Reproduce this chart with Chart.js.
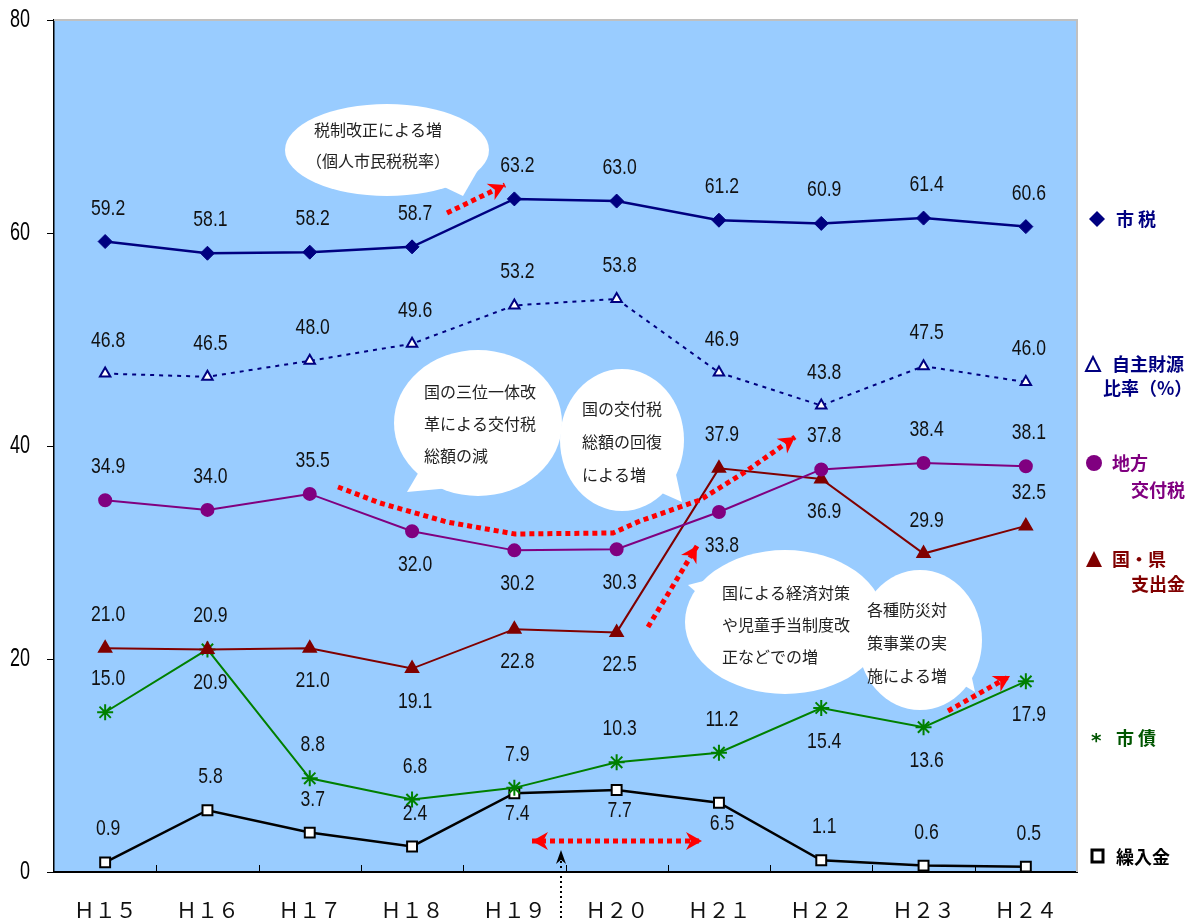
<!DOCTYPE html>
<html>
<head>
<meta charset="utf-8">
<script src="https://cdn.jsdelivr.net/npm/chart.js@4/dist/chart.umd.min.js"></script>
<style>
html, body { margin: 0; padding: 0; background: #fff; }
#wrap { width: 1197px; height: 918px; }
</style>
</head>
<body>
<div id="wrap"><canvas id="myChart"></canvas></div>
<script>
// categories
const years = ['Ｈ１５', 'Ｈ１６', 'Ｈ１７', 'Ｈ１８', 'Ｈ１９', 'Ｈ２０', 'Ｈ２１', 'Ｈ２２', 'Ｈ２３', 'Ｈ２４'];

// series values
const shizei  = [59.2, 58.1, 58.2, 58.7, 63.2, 63.0, 61.2, 60.9, 61.4, 60.6];
const jishu   = [46.8, 46.5, 48.0, 49.6, 53.2, 53.8, 46.9, 43.8, 47.5, 46.0];
const kofuzei = [34.9, 34.0, 35.5, 32.0, 30.2, 30.3, 33.8, 37.8, 38.4, 38.1];
const kenShishutsu = [21.0, 20.9, 21.0, 19.1, 22.8, 22.5, 37.9, 36.9, 29.9, 32.5];
const shisai  = [15.0, 20.9, 8.8, 6.8, 7.9, 10.3, 11.2, 15.4, 13.6, 17.9];
const kurire  = [0.9, 5.8, 3.7, 2.4, 7.4, 7.7, 6.5, 1.1, 0.6, 0.5];

// y axis
const yMin = 0, yMax = 80, yStep = 20;

// where each value label sits: a = above, b = below
const posShizei = ['a','a','a','a','a','a','a','a','a','a'];
const posJishu  = ['a','a','a','a','a','a','a','a','a','a'];
const posKofu   = ['a','a','a','b','b','b','b','a','a','a'];
const posKen    = ['a','a','b','b','b','b','a','b','a','a'];
const posShisai = ['a','b','a','a','a','a','a','b','b','b'];
const posKuri   = ['a','a','a','a','b','b','b','a','a','a'];

const NUM_FONT = '22px "Liberation Sans"';
const JP_FONT = '"Noto Sans CJK JP"';

function narrowText(ctx, txt, x, y, align, sx) {
    ctx.save();
    ctx.translate(x, y);
    ctx.scale(sx, 1);
    ctx.textAlign = align;
    ctx.fillText(txt, 0, 0);
    ctx.restore();
}

function arrowHead(ctx, x1, y1, x2, y2, len, wid, color) {
    const a = Math.atan2(y2 - y1, x2 - x1);
    ctx.save();
    ctx.fillStyle = color;
    ctx.translate(x2, y2);
    ctx.rotate(a);
    ctx.beginPath();
    ctx.moveTo(0, 0);
    ctx.lineTo(-len, -wid);
    ctx.lineTo(-len * 0.7, 0);
    ctx.lineTo(-len, wid);
    ctx.closePath();
    ctx.fill();
    ctx.restore();
}

function redPath(ctx, pts, heads) {
    ctx.save();
    ctx.strokeStyle = '#ff0000';
    ctx.lineWidth = 5;
    ctx.setLineDash([5, 4]);
    ctx.beginPath();
    ctx.moveTo(pts[0][0], pts[0][1]);
    for (let i = 1; i < pts.length; i++) ctx.lineTo(pts[i][0], pts[i][1]);
    ctx.stroke();
    ctx.restore();
    const n = pts.length;
    arrowHead(ctx, pts[n-2][0], pts[n-2][1], pts[n-1][0], pts[n-1][1], 16, 9, '#ff0000');
    if (heads === 2) arrowHead(ctx, pts[1][0], pts[1][1], pts[0][0], pts[0][1], 16, 9, '#ff0000');
}

function bubble(ctx, cx, cy, rx, ry, tail, lines, tx, ty, lh, align) {
    ctx.save();
    ctx.fillStyle = '#ffffff';
    ctx.beginPath();
    ctx.ellipse(cx, cy, rx, ry, 0, 0, Math.PI * 2);
    ctx.fill();
    ctx.beginPath();
    ctx.moveTo(tail[0][0], tail[0][1]);
    ctx.lineTo(tail[1][0], tail[1][1]);
    ctx.lineTo(tail[2][0], tail[2][1]);
    ctx.closePath();
    ctx.fill();
    ctx.fillStyle = '#222';
    ctx.font = '16px ' + JP_FONT;
    ctx.textAlign = align;
    ctx.textBaseline = 'middle';
    lines.forEach((l, i) => ctx.fillText(l, tx, ty + i * lh));
    ctx.restore();
}

const extras = {
    id: 'extras',
    beforeDraw(chart) {
        const { ctx, chartArea: a } = chart;
        ctx.save();
        ctx.fillStyle = '#99ccff';
        ctx.fillRect(a.left, a.top, a.right - a.left, a.bottom - a.top);
        ctx.restore();
    },
    beforeDatasetsDraw(chart) {
        const ctx = chart.ctx;
        bubble(ctx, 387, 150, 102, 46, [[440, 185], [463, 196], [478, 170]],
            ['税制改正による増', '（個人市民税税率）'], 378, 130, 31, 'center');
        bubble(ctx, 478, 423, 84, 73, [[420, 470], [407, 492], [450, 488]],
            ['国の三位一体改', '革による交付税', '総額の減'], 424, 392, 32, 'left');
        bubble(ctx, 622, 440, 62, 71, [[655, 490], [682, 502], [675, 470]],
            ['国の交付税', '総額の回復', 'による増'], 582, 409, 33, 'left');
        bubble(ctx, 785, 622, 100, 72, [[705, 600], [688, 585], [715, 578]],
            ['国による経済対策', 'や児童手当制度改', '正などでの増'], 722, 593, 32, 'left');
        bubble(ctx, 920, 640, 62, 70, [[955, 680], [975, 692], [968, 660]],
            ['各種防災対', '策事業の実', '施による増'], 867, 610, 33, 'left');
    },
    afterDatasetsDraw(chart) {
        const { ctx, chartArea: a, scales } = chart;
        const xs = scales.x, ys = scales.y;

        // frame
        ctx.save();
        ctx.strokeStyle = '#c0c0c0';
        ctx.lineWidth = 2;
        ctx.beginPath();
        ctx.moveTo(a.left, a.top);
        ctx.lineTo(a.right, a.top);
        ctx.lineTo(a.right, a.bottom);
        ctx.stroke();
        // inward x ticks
        ctx.strokeStyle = '#000';
        ctx.lineWidth = 1;
        const half = (xs.getPixelForValue(1) - xs.getPixelForValue(0)) / 2;
        for (let i = 1; i < years.length; i++) {
            const px = Math.round(xs.getPixelForValue(i) - half) + 0.5;
            ctx.beginPath();
            ctx.moveTo(px, a.bottom);
            ctx.lineTo(px, a.bottom - 7);
            ctx.stroke();
        }
        ctx.restore();

        // y tick labels
        ctx.save();
        ctx.fillStyle = '#000';
        ctx.font = '25px "Liberation Sans"';
        ctx.textBaseline = 'middle';
        ys.ticks.forEach(t => {
            narrowText(ctx, String(t.value), 30, ys.getPixelForValue(t.value), 'right', 0.72);
        });
        ctx.restore();

        // value labels
        ctx.save();
        ctx.fillStyle = '#111';
        ctx.font = NUM_FONT;
        ctx.textBaseline = 'middle';
        chart.data.datasets.forEach((ds, di) => {
            const meta = chart.getDatasetMeta(di);
            meta.data.forEach((pt, i) => {
                const below = ds.labelPos[i] === 'b';
                const dy = below ? ds.belowOff : -33;
                narrowText(ctx, ds.data[i].toFixed(1), pt.x + 3, pt.y + dy, 'center', 0.8);
            });
        });
        ctx.restore();

        // red arrows
        redPath(ctx, [[447, 213], [505, 185]], 1);
        redPath(ctx, [[338, 487], [380, 503], [447, 522], [515, 534], [613, 533], [640, 521], [700, 500], [745, 472], [795, 437]], 1);
        redPath(ctx, [[648, 627], [697, 546]], 1);
        redPath(ctx, [[948, 711], [1010, 676]], 1);
        redPath(ctx, [[532, 841], [702, 841]], 2);

        // black dotted arrow
        ctx.save();
        ctx.strokeStyle = '#000';
        ctx.lineWidth = 2;
        ctx.setLineDash([2, 3]);
        ctx.beginPath();
        ctx.moveTo(561, 918);
        ctx.lineTo(561, 858);
        ctx.stroke();
        ctx.restore();
        arrowHead(ctx, 561, 900, 561, 850, 14, 5, '#000');

        // legend
        ctx.save();
        ctx.textBaseline = 'middle';
        ctx.textAlign = 'left';
        ctx.font = 'bold 18px ' + JP_FONT;
        // 市税
        ctx.fillStyle = '#000080';
        ctx.beginPath();
        ctx.moveTo(1097, 211); ctx.lineTo(1105, 219); ctx.lineTo(1097, 227); ctx.lineTo(1089, 219);
        ctx.closePath(); ctx.fill();
        ctx.fillText('市 税', 1116, 219);
        // 自主財源比率
        ctx.strokeStyle = '#000080';
        ctx.lineWidth = 2;
        ctx.beginPath();
        ctx.moveTo(1093, 357); ctx.lineTo(1100, 371); ctx.lineTo(1086, 371);
        ctx.closePath(); ctx.stroke();
        ctx.fillText('自主財源', 1112, 364);
        ctx.fillText('比率（%）', 1103, 388);
        // 地方交付税
        ctx.fillStyle = '#800080';
        ctx.beginPath();
        ctx.arc(1094, 463, 8, 0, Math.PI * 2);
        ctx.fill();
        ctx.fillText('地方', 1112, 463);
        ctx.fillText('交付税', 1131, 490);
        // 国・県支出金
        ctx.fillStyle = '#800000';
        ctx.beginPath();
        ctx.moveTo(1094, 551); ctx.lineTo(1102, 567); ctx.lineTo(1086, 567);
        ctx.closePath(); ctx.fill();
        ctx.fillText('国・県', 1112, 559);
        ctx.fillText('支出金', 1131, 584);
        // 市債
        ctx.fillStyle = '#005500';
        ctx.font = 'bold 20px "DejaVu Sans"';
        ctx.fillText('*', 1091, 742);
        ctx.font = 'bold 18px ' + JP_FONT;
        ctx.fillText('市 債', 1116, 738);
        // 繰入金
        ctx.fillStyle = '#000';
        ctx.strokeStyle = '#000';
        ctx.lineWidth = 3;
        ctx.strokeRect(1092, 850, 11, 12);
        ctx.fillText('繰入金', 1116, 857);
        ctx.restore();
    }
};

const ctx = document.getElementById('myChart').getContext('2d');
const myChart = new Chart(ctx, {
    type: 'line',
    data: {
        labels: years,
        datasets: [
            {
                label: '市税', data: shizei, labelPos: posShizei, belowOff: 32,
                borderColor: '#000080', backgroundColor: '#000080', borderWidth: 2.5,
                pointStyle: 'rectRot', pointRadius: 7, pointBorderWidth: 1
            },
            {
                label: '自主財源比率（%）', data: jishu, labelPos: posJishu, belowOff: 32,
                borderColor: '#000080', backgroundColor: '#ffffff', borderWidth: 2,
                borderDash: [4, 5], pointStyle: 'triangle', pointRadius: 6, pointBorderWidth: 2
            },
            {
                label: '地方交付税', data: kofuzei, labelPos: posKofu, belowOff: 34,
                borderColor: '#800080', backgroundColor: '#800080', borderWidth: 2,
                pointStyle: 'circle', pointRadius: 6
            },
            {
                label: '国・県支出金', data: kenShishutsu, labelPos: posKen, belowOff: 33,
                borderColor: '#800000', backgroundColor: '#800000', borderWidth: 2,
                pointStyle: 'triangle', pointRadius: 7
            },
            {
                label: '市債', data: shisai, labelPos: posShisai, belowOff: 34,
                borderColor: '#008000', backgroundColor: '#008000', borderWidth: 2,
                pointStyle: 'star', pointRadius: 8, pointBorderWidth: 2
            },
            {
                label: '繰入金', data: kurire, labelPos: posKuri, belowOff: 21,
                borderColor: '#000000', backgroundColor: '#ffffff', borderWidth: 2.5,
                pointStyle: 'rect', pointRadius: 7, pointBorderWidth: 2
            }
        ]
    },
    options: {
        responsive: true,
        maintainAspectRatio: false,
        animation: false,
        layout: { padding: { top: 20, right: 120, left: 0, bottom: 0 } },
        plugins: {
            legend: { display: false },
            tooltip: { enabled: false }
        },
        scales: {
            x: {
                offset: true,
                grid: { display: false },
                border: { color: '#000', width: 2 },
                ticks: {
                    color: '#111',
                    font: { family: 'Noto Sans CJK JP', size: 21 },
                    padding: 17,
                    maxRotation: 0
                },
                afterFit: s => { s.height = 46; }
            },
            y: {
                min: yMin,
                max: yMax,
                ticks: { stepSize: yStep, display: false },
                grid: { drawOnChartArea: false, tickLength: 7, color: '#000' },
                border: { color: '#000', width: 1.5 },
                afterFit: s => { s.width = 54; }
            }
        }
    },
    plugins: [extras]
});
</script>
</body>
</html>
